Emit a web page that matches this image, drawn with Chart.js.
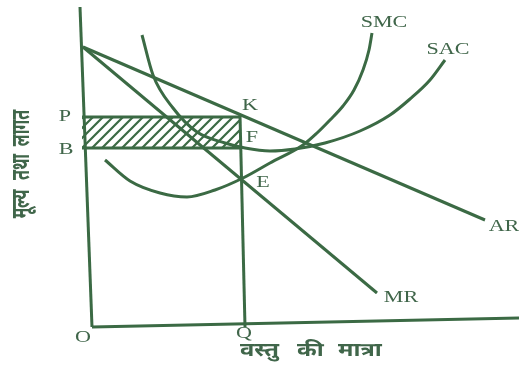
<!DOCTYPE html>
<html>
<head>
<meta charset="utf-8">
<script src="https://cdn.jsdelivr.net/npm/chart.js@4.4.1/dist/chart.umd.min.js"></script>
<style>
  html, body { margin: 0; padding: 0; background: #fff; }
  #wrap { width: 519px; height: 365px; }
</style>
</head>
<body>
<div id="wrap"><canvas id="monopoly" width="519" height="365"></canvas></div>
<script>
// quantity / cost points (origin O at 0,0)
const axisY = [[-12, 320], [0, 0]];
const axisX = [[0, 0], [427, 9]];
const arQ = [-9, 393], arPrice = [280, 107];
const mrQ = [-9, 285], mrPrice = [280, 34];
const smcQ = [13, 38, 68, 95, 123, 151, 178, 211, 225, 238, 251, 262, 271, 277, 280];
const smcCost = [167, 146, 134, 130, 137, 149, 164, 182, 194, 207, 221, 237, 257, 277, 294];
const sacQ = [50, 61, 81, 105, 133, 153, 178, 203, 233, 268, 298, 318, 338, 353];
const sacCost = [292, 252, 219, 195, 184, 179, 176, 178, 184, 196, 212, 228, 247, 267];
const outputQ = 150;      // OQ
const priceP = 210;       // OP = QK
const costB = 179;        // OB = QF
const profitLeft = -10;

// point labels: text, q, value
const labels = [
  ['P', -27, 210], ['B', -26, 177], ['K', 158, 221], ['F', 160, 189],
  ['E', 171, 144], ['O', -9, -11], ['Q', 152, -7],
  ['SMC', 292, 304], ['SAC', 356, 277], ['AR', 412, 100], ['MR', 309, 29]
];
const xTitle = ['वस्तु', 'की', 'मात्रा'];
const xTitleAt = [148, 205, 246];
const yTitle = ['मूल्य', 'तथा', 'लागत'];
const yTitleAt = [123, 160, 199];

const ink = '#3b6a44';

function pts(xs, ys) { return xs.map((x, i) => ({ x: x, y: ys[i] })); }

function hatch() {
  const n = 10;
  const c = document.createElement('canvas');
  c.width = n; c.height = n;
  const g = c.getContext('2d');
  g.strokeStyle = ink;
  g.lineWidth = 2.2;
  g.beginPath();
  g.moveTo(-2, n + 2); g.lineTo(n + 2, -2);
  g.moveTo(-2, 2); g.lineTo(2, -2);
  g.moveTo(n - 2, n + 2); g.lineTo(n + 2, n - 2);
  g.stroke();
  return g.createPattern(c, 'repeat');
}

function seg(data, extra) {
  return Object.assign({
    data: data, showLine: true, borderColor: ink, borderWidth: 3,
    pointRadius: 0, fill: false, tension: 0
  }, extra || {});
}

const devanagari = '"Noto Sans Devanagari", "Lohit Devanagari", "FreeSans", sans-serif';

const textPlugin = {
  id: 'diagramText',
  afterDraw(chart) {
    const ctx = chart.ctx, xs = chart.scales.x, ys = chart.scales.y;
    const put = (t, px, py, sx, sy) => {
      ctx.save();
      ctx.translate(px, py);
      ctx.scale(sx, sy || 1);
      ctx.fillText(t, 0, 0);
      ctx.restore();
    };
    ctx.save();
    ctx.fillStyle = '#40664a';
    ctx.textAlign = 'center';
    ctx.textBaseline = 'middle';
    ctx.font = '17px "Liberation Serif", serif';
    labels.forEach(([t, q, v]) => put(t, xs.getPixelForValue(q), ys.getPixelForValue(v), 1.3));
    ctx.font = 'bold 19px ' + devanagari;
    ctx.textAlign = 'left';
    xTitle.forEach((w, i) => put(w, xs.getPixelForValue(xTitleAt[i]), ys.getPixelForValue(-25), 1.25));
    ctx.font = 'bold 20px ' + devanagari;
    ctx.textAlign = 'center';
    ctx.translate(xs.getPixelForValue(-68), 0);
    ctx.rotate(-Math.PI / 2);
    yTitle.forEach((w, i) => put(w, -ys.getPixelForValue(yTitleAt[i]), 0, 0.8, 1.3));
    ctx.restore();
  }
};

new Chart(document.getElementById('monopoly'), {
  type: 'scatter',
  data: {
    datasets: [
      // profit rectangle P-K-F-B
      seg([{ x: profitLeft, y: priceP }, { x: outputQ - 2, y: priceP }], { fill: '+1', backgroundColor: hatch() }),
      seg([{ x: profitLeft, y: costB }, { x: outputQ, y: costB }]),
      seg(axisY.map(p => ({ x: p[0], y: p[1] }))),
      seg(axisX.map(p => ({ x: p[0], y: p[1] }))),
      seg([{ x: outputQ - 2, y: priceP + 2 }, { x: outputQ + 3, y: 0 }]),
      seg(pts(arQ, arPrice)),
      seg(pts(mrQ, mrPrice)),
      seg(pts(smcQ, smcCost), { cubicInterpolationMode: 'monotone' }),
      seg(pts(sacQ, sacCost), { cubicInterpolationMode: 'monotone' })
    ]
  },
  options: {
    responsive: false,
    animation: false,
    layout: { padding: 0 },
    plugins: { legend: { display: false }, tooltip: { enabled: false } },
    scales: {
      x: { type: 'linear', min: -92, max: 427, display: false },
      y: { type: 'linear', min: -38, max: 327, display: false }
    }
  },
  plugins: [textPlugin]
});
</script>
</body>
</html>
